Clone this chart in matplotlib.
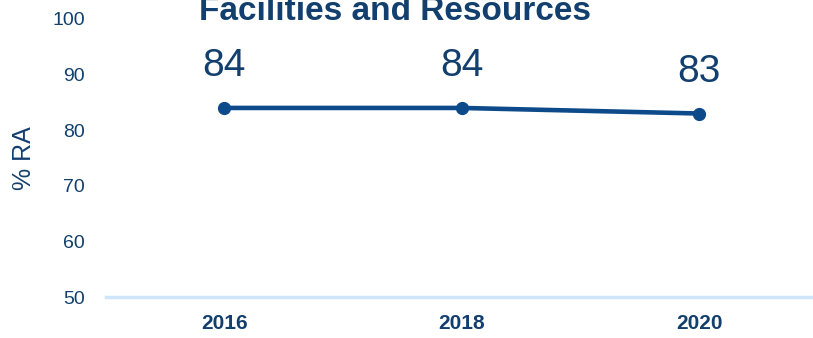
import matplotlib.pyplot as plt

years = ['2016', '2018', '2020']
pct_ra = [84, 84, 83]
y_ticks = [50, 60, 70, 80, 90, 100]

navy = '#123f6e'
line_blue = '#0d4a8a'
axis_blue = '#cfe5fa'

plt.rcParams['font.family'] = ['Liberation Sans', 'DejaVu Sans']

fig = plt.figure(figsize=(8.13, 3.38), dpi=100)
ax = fig.add_axes([0.13, 0.121, 0.87, 0.823])

x = range(len(years))
ax.plot(x, pct_ra, color=line_blue, linewidth=3.3, marker='o', markersize=8.5)

for xi, v in zip(x, pct_ra):
    ax.annotate(f'{v}', (xi, v), xytext=(0, 17), textcoords='offset points',
                ha='center', va='bottom', fontsize=28, color=navy)

ax.set_xlim(-0.5, 2.48)
ax.set_ylim(50, 100)
ax.set_yticks(y_ticks)
ax.set_xticks(list(x))
ax.set_xticklabels(years, fontsize=15, fontweight='bold', color=navy)
ax.tick_params(axis='y', length=0, pad=15, labelsize=14, labelcolor=navy)
ax.tick_params(axis='x', length=0, pad=12)

for side in ['top', 'right', 'left']:
    ax.spines[side].set_visible(False)
ax.spines['bottom'].set_color(axis_blue)
ax.spines['bottom'].set_linewidth(2.5)

ax.set_ylabel('% RA', fontsize=18, color=navy)
ax.yaxis.set_label_coords(-0.098, 0.5)

fig.text(0.486, 0.94, 'Facilities and Resources', ha='center', va='baseline',
         fontsize=24, fontweight='bold', color=navy)

fig.savefig('out.png', dpi=100)
